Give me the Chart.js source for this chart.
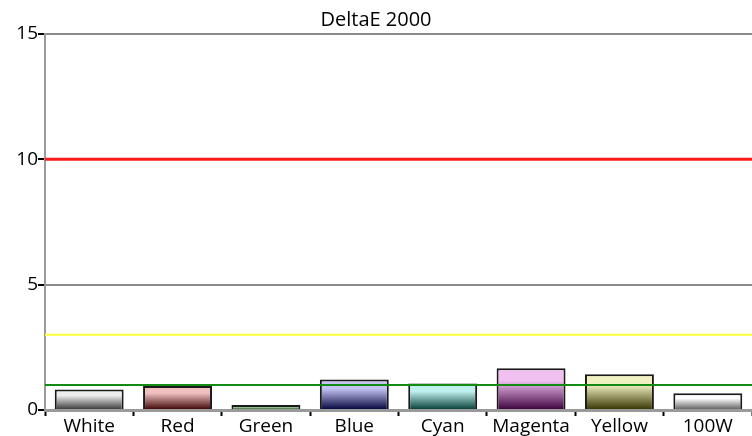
<!DOCTYPE html>
<html>
<head>
<meta charset="utf-8">
<script src="https://cdn.jsdelivr.net/npm/chart.js@4/dist/chart.umd.min.js"></script>
<style>
html,body{margin:0;padding:0;background:#fff;}
#wrap{width:752px;height:436px;}
</style>
</head>
<body>
<div id="wrap"><canvas id="c" width="752" height="436"></canvas></div>
<script>
const categories = ["White", "Red", "Green", "Blue", "Cyan", "Magenta", "Yellow", "100W"];
const deltaE = [0.82, 0.96, 0.2, 1.22, 1.06, 1.67, 1.43, 0.67];
const yTicks = [0, 5, 10, 15];
const thresholdValues = [10, 3, 1];
const thresholdColors = ["#ff1a1a", "#ffff33", "#138a13"];
const thresholdWidths = [3, 2, 2];
const barTopColors = ["#ececec", "#f0c0c0", "#c8f0c8", "#c4c4f2", "#c0f0ee", "#f0c0f0", "#f0f0c0", "#ffffff"];
const barBottomColors = ["#333333", "#3a0000", "#003a00", "#00003a", "#003a33", "#3a003a", "#333300", "#5a5a5a"];

const FONT = "'Open Sans', Lato, sans-serif";

const thresholdPlugin = {
  id: 'thresholds',
  afterDatasetsDraw(chart) {
    const {ctx, chartArea, scales} = chart;
    ctx.save();
    thresholdValues.forEach((v, i) => {
      const y = scales.y.getPixelForValue(v);
      ctx.strokeStyle = thresholdColors[i];
      ctx.lineWidth = thresholdWidths[i];
      ctx.beginPath();
      ctx.moveTo(chartArea.left, y);
      ctx.lineTo(chartArea.right, y);
      ctx.stroke();
    });
    ctx.restore();
  }
};

function barGradient(context) {
  const chart = context.chart;
  const i = context.dataIndex;
  if (!chart.chartArea || !chart.scales.y) return barTopColors[i];
  const y = chart.scales.y;
  const top = y.getPixelForValue(deltaE[i]);
  const bottom = y.getPixelForValue(0);
  if (!isFinite(top) || !isFinite(bottom) || bottom - top < 1) return barTopColors[i];
  const g = chart.ctx.createLinearGradient(0, top, 0, bottom);
  g.addColorStop(0, barTopColors[i]);
  g.addColorStop(0.3, barTopColors[i]);
  g.addColorStop(1, barBottomColors[i]);
  return g;
}

new Chart(document.getElementById('c'), {
  type: 'bar',
  data: {
    labels: categories,
    datasets: [{
      data: deltaE,
      backgroundColor: barGradient,
      borderColor: "#1a1a1a",
      borderWidth: 2,
      borderSkipped: 'bottom',
      barPercentage: 0.78,
      categoryPercentage: 1.0
    }]
  },
  options: {
    responsive: false,
    animation: false,
    devicePixelRatio: 1,
    layout: {padding: {left: 0, right: 0, top: 0, bottom: 0}},
    plugins: {
      legend: {display: false},
      tooltip: {enabled: false},
      title: {
        display: true,
        text: "DeltaE 2000",
        color: "#000",
        font: {family: FONT, size: 20, weight: 'normal', lineHeight: 1.2},
        padding: {top: 8, bottom: 2}
      }
    },
    scales: {
      x: {
        type: 'category',
        offset: true,
        grid: {
          display: true,
          offset: true,
          drawOnChartArea: false,
          drawTicks: true,
          tickLength: 6,
          tickColor: "#000",
          tickWidth: 2
        },
        border: {display: true, color: "#9a9a9a", width: 3},
        ticks: {color: "#000", font: {family: FONT, size: 19, lineHeight: 1.0}, padding: 1, maxRotation: 0, autoSkip: false},
        afterFit(scale) { scale.height = 26; }
      },
      y: {
        min: 0,
        max: 15,
        afterBuildTicks(scale) { scale.ticks = yTicks.map(v => ({value: v})); },
        grid: {
          color: "#8a8a8a",
          lineWidth: 2,
          drawTicks: true,
          tickLength: 7,
          tickColor: "#000",
          tickWidth: 2
        },
        border: {display: true, color: "#9a9a9a", width: 2},
        ticks: {color: "#000", font: {family: FONT, size: 19}, padding: 0},
        afterFit(scale) { scale.width = 45; }
      }
    }
  },
  plugins: [thresholdPlugin]
});
</script>
</body>
</html>
